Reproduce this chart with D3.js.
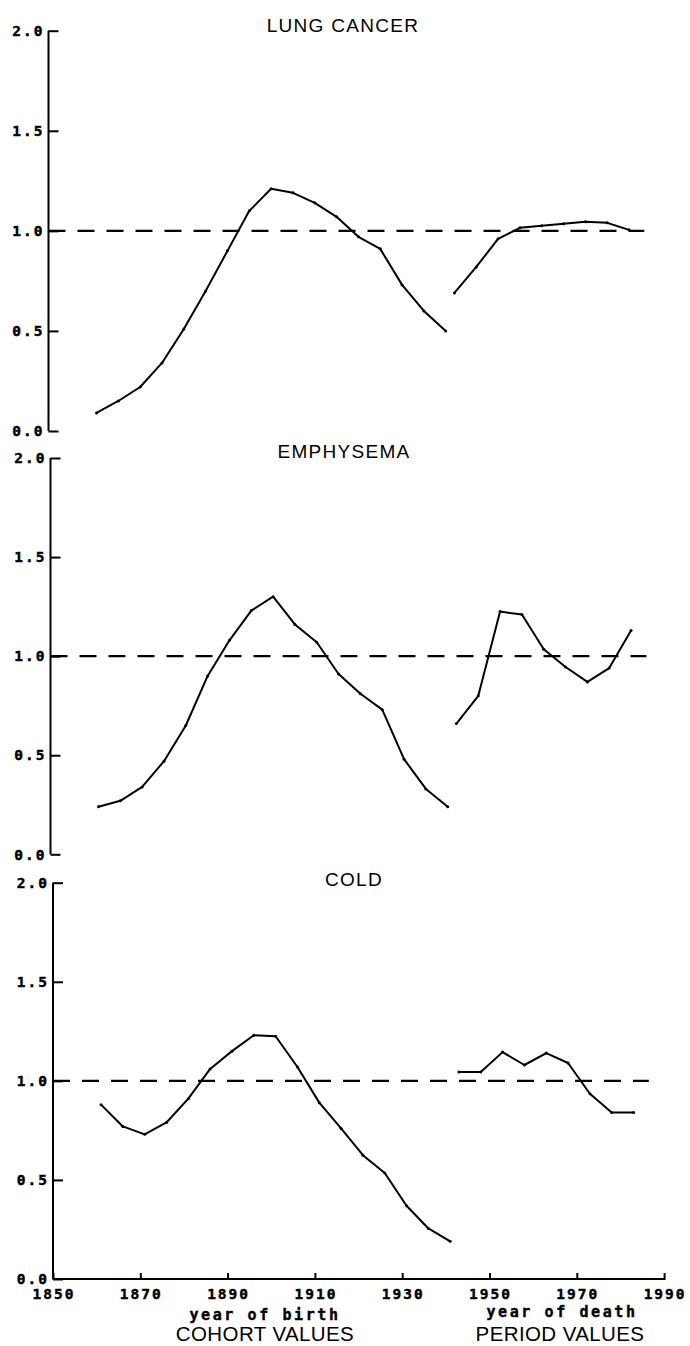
<!DOCTYPE html>
<meta charset="utf-8">
<style>
  body { margin: 0; padding: 0; background: #fff; }
  svg { display: block; }
  .tick-label { font-family: "DejaVu Sans Mono", monospace; font-weight: bold; font-size: 14.5px; letter-spacing: 2px; fill: #000; stroke: #000; stroke-width: 0.45px; }
  .axis-note { font-family: "DejaVu Sans Mono", monospace; font-weight: bold; font-size: 15px; letter-spacing: 2.6px; fill: #000; stroke: #000; stroke-width: 0.4px; }
  .panel-title { font-family: "Liberation Sans", Arial, sans-serif; font-size: 19px; letter-spacing: 1.3px; fill: #000; }
  .big-note { font-family: "Liberation Sans", Arial, sans-serif; font-size: 20.5px; letter-spacing: 0.4px; fill: #000; }
</style>
<script src="https://d3js.org/d3.v7.min.js"></script>
<body>
<div id="chart"></div>
<script>

// years (cohort = year of birth, period = year of death)
var cohortYears = [1861, 1866, 1871, 1876, 1881, 1886, 1891, 1896, 1901, 1906, 1911, 1916, 1921, 1926, 1931, 1936, 1941];
var periodYears = [1943, 1948, 1953, 1958, 1963, 1968, 1973, 1978, 1983];

var lungCohort = [0.09, 0.15, 0.22, 0.34, 0.51, 0.70, 0.90, 1.10, 1.21, 1.19, 1.14, 1.07, 0.97, 0.91, 0.73, 0.60, 0.50];
var lungPeriod = [0.69, 0.82, 0.96, 1.015, 1.025, 1.035, 1.045, 1.04, 1.005];

var emphCohort = [0.24, 0.27, 0.34, 0.47, 0.65, 0.90, 1.08, 1.23, 1.30, 1.16, 1.07, 0.91, 0.81, 0.73, 0.48, 0.33, 0.24];
var emphPeriod = [0.66, 0.80, 1.225, 1.21, 1.035, 0.945, 0.87, 0.94, 1.13];

var coldCohort = [0.88, 0.77, 0.73, 0.79, 0.91, 1.06, 1.15, 1.23, 1.225, 1.07, 0.89, 0.76, 0.625, 0.535, 0.37, 0.255, 0.19];
var coldPeriod = [1.045, 1.045, 1.145, 1.08, 1.14, 1.09, 0.935, 0.84, 0.84];

var panelTitles = ["LUNG CANCER", "EMPHYSEMA", "COLD"];
var yTicks = [0, 0.5, 1, 1.5, 2];
var xTicks = [1850, 1870, 1890, 1910, 1930, 1950, 1970, 1990];
var refLevel = 1.0;

var width = 690, height = 1346;

// layout of the three stacked panels (the scan is a little skewed, so the left edge drifts)
var panels = [
  { title: panelTitles[0], cohort: lungCohort, period: lungPeriod, top: 30.7, bottom: 431, left: 48.5, titleX: 343, titleY: 31.5 },
  { title: panelTitles[1], cohort: emphCohort, period: emphPeriod, top: 458, bottom: 854.3, left: 50.5, titleX: 344, titleY: 458 },
  { title: panelTitles[2], cohort: coldCohort, period: coldPeriod, top: 882.7, bottom: 1279, left: 53, titleX: 354, titleY: 885.5 }
];
var pxPerYear = 4.365;

var svg = d3.select("#chart")
  .append("svg")
    .attr("width", width)
    .attr("height", height);

var line = d3.line();

panels.forEach(function(p, i) {
  var x = d3.scaleLinear()
    .domain([1850, 1990])
    .range([p.left, p.left + 140 * pxPerYear]);
  var y = d3.scaleLinear()
    .domain([0, 2])
    .range([p.bottom, p.top]);

  var g = svg.append("g");

  // y axis: ticks point inwards, labels on the left
  var yAxis = d3.axisRight(y).tickValues(yTicks).tickSize(10).tickFormat("");
  var ya = g.append("g")
    .attr("transform", "translate(" + x(1850) + ",0)")
    .call(yAxis);
  ya.select(".domain").attr("d", "M0," + y(2) + "V" + y(0)).attr("stroke", "#000").attr("stroke-width", 2);
  ya.selectAll(".tick line").attr("stroke", "#000").attr("stroke-width", 2);

  g.selectAll(".ylab")
    .data(yTicks)
    .enter()
    .append("text")
      .attr("class", "tick-label")
      .attr("x", x(1850) - 4)
      .attr("y", function(d) { return y(d); })
      .attr("dy", "0.36em")
      .attr("text-anchor", "end")
      .text(function(d) { return d3.format(".1f")(d); });

  // reference line at 1.0
  g.append("line")
    .attr("x1", x(1850))
    .attr("x2", x(1986.5))
    .attr("y1", y(refLevel))
    .attr("y2", y(refLevel))
    .attr("stroke", "#000")
    .attr("stroke-width", 2.4)
    .attr("stroke-dasharray", "17,12");

  var cohortPts = cohortYears.map(function(yr, k) { return [x(yr), y(p.cohort[k])]; });
  var periodPts = periodYears.map(function(yr, k) { return [x(yr), y(p.period[k])]; });

  [cohortPts, periodPts].forEach(function(pts) {
    g.append("path")
      .attr("d", line(pts))
      .attr("fill", "none")
      .attr("stroke", "#000")
      .attr("stroke-width", 2)
      .attr("stroke-linejoin", "round");
    g.selectAll(null)
      .data(pts)
      .enter()
      .append("circle")
        .attr("cx", function(d) { return d[0]; })
        .attr("cy", function(d) { return d[1]; })
        .attr("r", 1.5)
        .attr("fill", "#000");
  });

  g.append("text")
    .attr("class", "panel-title")
    .attr("x", p.titleX)
    .attr("y", p.titleY)
    .attr("text-anchor", "middle")
    .text(p.title);

  // x axis only under the last panel
  if (i === panels.length - 1) {
    var xAxis = d3.axisTop(x).tickValues(xTicks).tickSize(6).tickFormat("");
    var xa = g.append("g")
      .attr("transform", "translate(0," + y(0) + ")")
      .call(xAxis);
    xa.select(".domain").attr("d", "M" + x(1850) + ",0H" + x(1990)).attr("stroke", "#000").attr("stroke-width", 2);
    xa.selectAll(".tick line").attr("stroke", "#000").attr("stroke-width", 2).attr("y2", -6).attr("y1", 1);

    g.selectAll(".xlab")
      .data(xTicks)
      .enter()
      .append("text")
        .attr("class", "tick-label")
        .attr("x", function(d) { return x(d) + 1; })
        .attr("y", y(0) + 20)
        .attr("text-anchor", "middle")
        .text(function(d) { return d; });

    g.append("text").attr("class", "axis-note").attr("x", 265).attr("y", 1320).attr("text-anchor", "middle").text("year of birth");
    g.append("text").attr("class", "axis-note").attr("x", 562).attr("y", 1317).attr("text-anchor", "middle").text("year of death");
    g.append("text").attr("class", "big-note").attr("x", 265).attr("y", 1341).attr("text-anchor", "middle").text("COHORT VALUES");
    g.append("text").attr("class", "big-note").attr("x", 560).attr("y", 1341).attr("text-anchor", "middle").text("PERIOD VALUES");
  }
});

</script>
</body>
